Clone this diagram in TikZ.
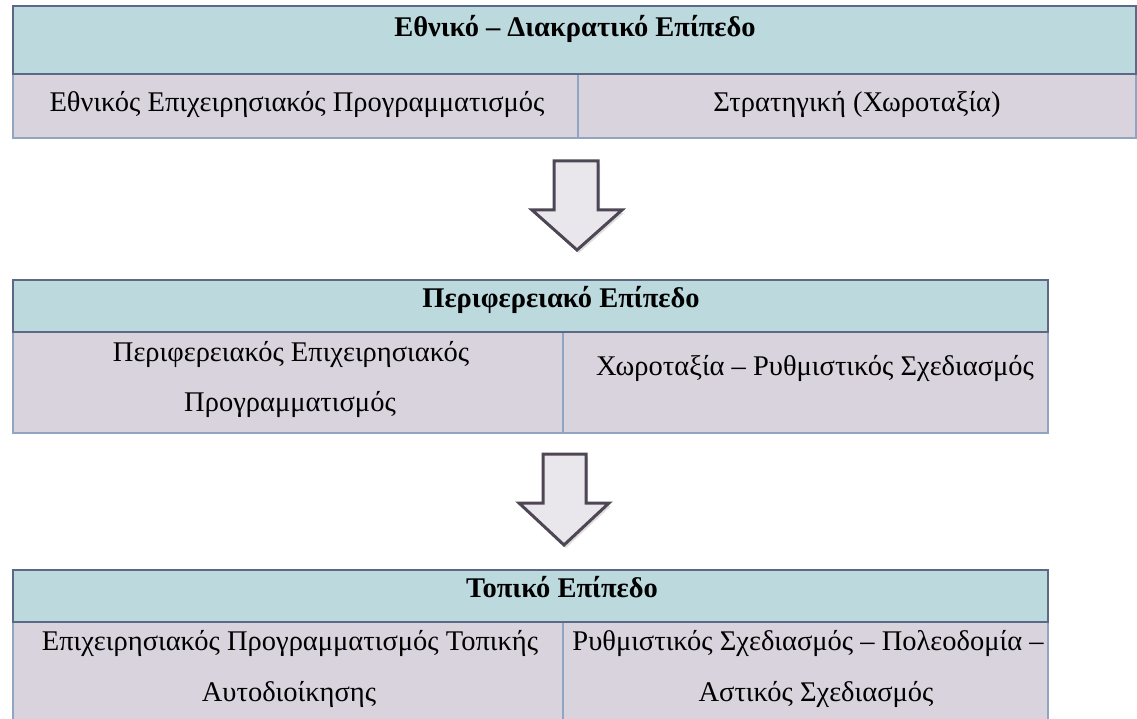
\documentclass[tikz,border=0pt]{standalone}
\usepackage{fontspec}
\setmainfont{Liberation Serif}
\usetikzlibrary{shadows}
\definecolor{hdrfill}{RGB}{188,217,222}
\definecolor{bodyfill}{RGB}{216,211,220}
\definecolor{darkedge}{RGB}{92,104,134}
\definecolor{lightedge}{RGB}{145,164,194}
\definecolor{arrowfill}{RGB}{233,231,235}
\definecolor{arrowedge}{RGB}{78,70,84}
\begin{document}
\begin{tikzpicture}[x=1pt,y=-1pt,
		txt/.style={anchor=base,inner sep=0pt,font=\fontsize{28.5}{32}\selectfont},
		hdr/.style={txt,font=\fontsize{28.5}{32}\selectfont\bfseries},
		blockarrow/.style={fill=arrowfill,draw=arrowedge,line width=3pt,line join=miter,
			drop shadow={shadow xshift=2pt,shadow yshift=-3pt,opacity=0.25}}]
	\useasboundingbox (0,0) rectangle (1137,719);
	\clip (0,0) rectangle (1137,719);
	% national level
	\fill[hdrfill] (13,6) rectangle (1136,74);
	\fill[bodyfill] (13,74) rectangle (1136,138);
	\draw[lightedge,line width=1.5pt] (13,74) -- (13,138) -- (1136,138) -- (1136,74);
	\draw[lightedge,line width=1.2pt] (578,74) -- (578,138);
	\draw[darkedge,line width=2pt] (13,6) rectangle (1136,74);
	\node[hdr] (nat) at (575,37) {Εθνικό – Διακρατικό Επίπεδο};
	\node[txt] (natA) at (297,112) {Εθνικός Επιχειρησιακός Προγραμματισμός};
	\node[txt] (natB) at (857,112) {Στρατηγική (Χωροταξία)};
	% arrow 1
	\draw[blockarrow] (554,161) -- (598,161) -- (598,210) -- (622,210) -- (577,250)
		-- (532,210) -- (554,210) -- cycle;
	% regional level
	\fill[hdrfill] (13,280) rectangle (1048,332);
	\fill[bodyfill] (13,332) rectangle (1048,433);
	\draw[lightedge,line width=1.5pt] (13,332) -- (13,433) -- (1048,433) -- (1048,332);
	\draw[lightedge,line width=1.2pt] (563,332) -- (563,433);
	\draw[darkedge,line width=2pt] (13,280) rectangle (1048,332);
	\node[hdr] (reg) at (561,307) {Περιφερειακό Επίπεδο};
	\node[txt] (regA) at (291,361) {Περιφερειακός Επιχειρησιακός};
	\node[txt] (regA2) at (290,411) {Προγραμματισμός};
	\node[txt] (regB) at (815,375) {Χωροταξία – Ρυθμιστικός Σχεδιασμός};
	% arrow 2
	\draw[blockarrow] (543,454) -- (586,454) -- (586,503) -- (609,503) -- (564,545)
		-- (519,503) -- (543,503) -- cycle;
	% local level
	\fill[hdrfill] (13,570) rectangle (1048,622);
	\fill[bodyfill] (13,622) rectangle (1048,740);
	\draw[lightedge,line width=1.5pt] (13,622) -- (13,740) (1048,740) -- (1048,622);
	\draw[lightedge,line width=1.2pt] (563,622) -- (563,740);
	\draw[darkedge,line width=2pt] (13,570) rectangle (1048,622);
	\node[hdr] (loc) at (562,597) {Τοπικό Επίπεδο};
	\node[txt] (locA) at (290,650) {Επιχειρησιακός Προγραμματισμός Τοπικής};
	\node[txt] (locA2) at (289,701) {Αυτοδιοίκησης};
	\node[txt] (locB) at (808,650) {Ρυθμιστικός Σχεδιασμός – Πολεοδομία –};
	\node[txt] (locB2) at (816,701) {Αστικός Σχεδιασμός};
\end{tikzpicture}
\end{document}
